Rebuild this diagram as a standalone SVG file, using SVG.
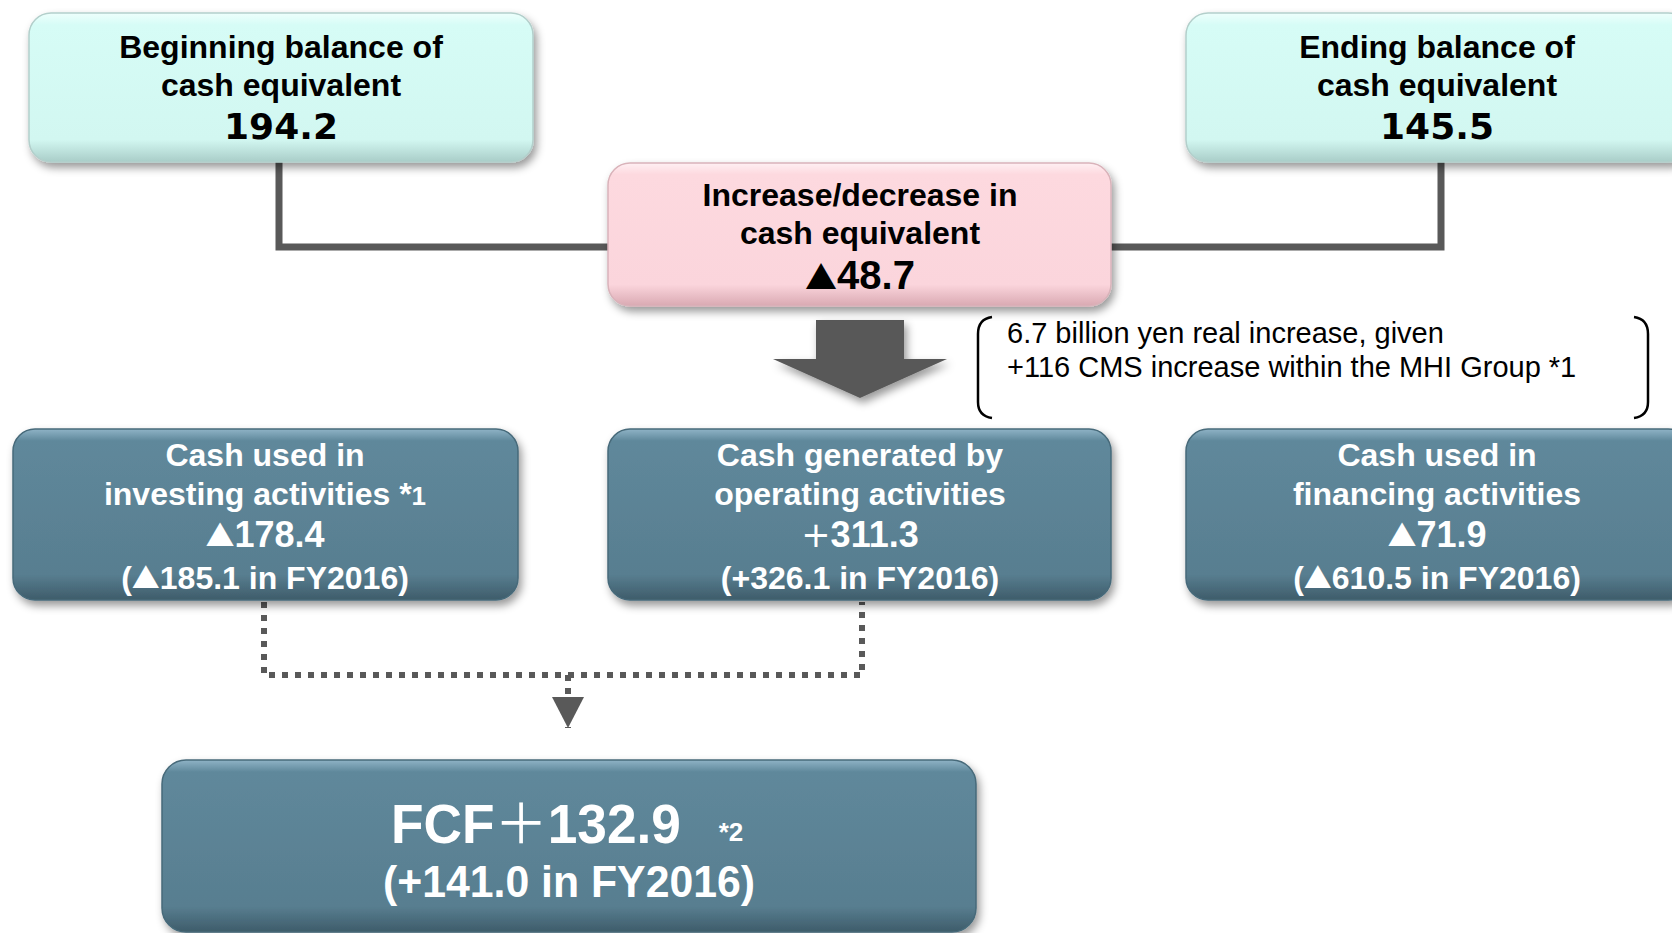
<svg xmlns="http://www.w3.org/2000/svg" width="1672" height="933" viewBox="0 0 1672 933">
<defs>
  <linearGradient id="gCyan" x1="0" y1="0" x2="0" y2="1">
    <stop offset="0" stop-color="#eefffc"/>
    <stop offset="0.08" stop-color="#d6fcf6"/>
    <stop offset="0.85" stop-color="#d2f7f1"/>
    <stop offset="1" stop-color="#a9cdc8"/>
  </linearGradient>
  <linearGradient id="gPink" x1="0" y1="0" x2="0" y2="1">
    <stop offset="0" stop-color="#fff0f3"/>
    <stop offset="0.08" stop-color="#fdd9df"/>
    <stop offset="0.85" stop-color="#fbd5dc"/>
    <stop offset="1" stop-color="#d9a9b2"/>
  </linearGradient>
  <linearGradient id="gBlue" x1="0" y1="0" x2="0" y2="1">
    <stop offset="0" stop-color="#8fb3c6"/>
    <stop offset="0.07" stop-color="#5f889b"/>
    <stop offset="0.85" stop-color="#587e90"/>
    <stop offset="1" stop-color="#3e5c6a"/>
  </linearGradient>
  <filter id="shadow" x="-5%" y="-10%" width="112%" height="130%">
    <feDropShadow dx="3" dy="5" stdDeviation="4" flood-color="#000" flood-opacity="0.4"/>
  </filter>
  <marker id="tri" viewBox="0 0 31 32" refX="31" refY="16" markerWidth="31" markerHeight="32" markerUnits="userSpaceOnUse" orient="auto">
    <path d="M0 0 L31 16 L0 32 Z" fill="#595959"/>
  </marker>
</defs>
<style>
  .cyan { fill: url(#gCyan); stroke: #b3cfcb; stroke-width: 1.5; filter: url(#shadow); }
  .pink { fill: url(#gPink); stroke: #d9b3ba; stroke-width: 1.5; filter: url(#shadow); }
  .blue { fill: url(#gBlue); stroke: #476a7a; stroke-width: 1.5; filter: url(#shadow); }
  .t { font-family: "Liberation Sans", Arial, "DejaVu Sans", sans-serif; font-weight: bold; text-anchor: middle; }
  .dk { fill: #000; }
  .wh { fill: #fff; }
  .tri { font-family: "Noto Sans CJK JP", sans-serif; font-weight: normal; }
  .plus { font-family: "DejaVu Sans", sans-serif; font-weight: normal; }
  .num { font-family: "DejaVu Sans", Verdana, sans-serif; font-weight: bold; text-anchor: middle; fill: #000; }
  .note { font-family: "Liberation Sans", Arial, sans-serif; font-size: 29px; fill: #000; }
  .solid { fill: none; stroke: #595959; stroke-width: 7; }
  .dot { fill: none; stroke: #595959; stroke-width: 6; stroke-dasharray: 6 7; }
</style>

<g id="connectors">
  <path class="solid" d="M279 162 V247 H610"/>
  <path class="solid" d="M1110 247 H1441 V162"/>
  <path class="dot" d="M264 602 V675 H862 V602"/>
  <path class="dot" d="M568 675 V728" marker-end="url(#tri)"/>
  <path d="M816 320 H904 V359 H947 L860 398 L773 359 H816 Z" fill="#595959" filter="url(#shadow)"/>
  <path d="M992 317 Q978 319 978 334 V402 Q978 416 992 418" fill="none" stroke="#000" stroke-width="2.5"/>
  <path d="M1634 317 Q1648 319 1648 334 V402 Q1648 416 1634 418" fill="none" stroke="#000" stroke-width="2.5"/>
</g>

<g id="note">
  <text class="note" x="1007" y="343">6.7 billion yen real increase, given</text>
  <text class="note" x="1007" y="377">+116 CMS increase within the MHI Group *1</text>
</g>

<g id="beginning">
  <rect class="cyan" x="29" y="13" width="504" height="149" rx="22"/>
  <text class="t dk" x="281" y="58" font-size="32">Beginning balance of</text>
  <text class="t dk" x="281" y="96" font-size="32">cash equivalent</text>
  <text class="num" x="281" y="139" font-size="36">194.2</text>
</g>

<g id="ending">
  <rect class="cyan" x="1186" y="13" width="504" height="149" rx="22"/>
  <text class="t dk" x="1437" y="58" font-size="32">Ending balance of</text>
  <text class="t dk" x="1437" y="96" font-size="32">cash equivalent</text>
  <text class="num" x="1437" y="139" font-size="36">145.5</text>
</g>

<g id="increase">
  <rect class="pink" x="608" y="163" width="503" height="143" rx="22"/>
  <text class="t dk" x="860" y="206" font-size="32">Increase/decrease in</text>
  <text class="t dk" x="860" y="244" font-size="32">cash equivalent</text>
  <text class="t dk" x="860" y="289" font-size="40"><tspan class="tri" font-size="32">▲</tspan>48.7</text>
</g>

<g id="investing">
  <rect class="blue" x="13" y="429" width="505" height="171" rx="22"/>
  <text class="t wh" x="265" y="466" font-size="32">Cash used in</text>
  <text class="t wh" x="265" y="505" font-size="32">investing activities *<tspan font-size="26">1</tspan></text>
  <text class="t wh" x="265" y="547" font-size="36"><tspan class="tri" font-size="29">▲</tspan>178.4</text>
  <text class="t wh" x="265" y="589" font-size="32">(<tspan class="tri" font-size="28">▲</tspan>185.1 in FY2016)</text>
</g>

<g id="operating">
  <rect class="blue" x="608" y="429" width="503" height="171" rx="22"/>
  <text class="t wh" x="860" y="466" font-size="32">Cash generated by</text>
  <text class="t wh" x="860" y="505" font-size="32">operating activities</text>
  <text class="t wh" x="860" y="547" font-size="36"><tspan class="plus" font-size="35">+</tspan>311.3</text>
  <text class="t wh" x="860" y="589" font-size="32">(+326.1 in FY2016)</text>
</g>

<g id="financing">
  <rect class="blue" x="1186" y="429" width="504" height="171" rx="22"/>
  <text class="t wh" x="1437" y="466" font-size="32">Cash used in</text>
  <text class="t wh" x="1437" y="505" font-size="32">financing activities</text>
  <text class="t wh" x="1437" y="547" font-size="36"><tspan class="tri" font-size="29">▲</tspan>71.9</text>
  <text class="t wh" x="1437" y="589" font-size="32">(<tspan class="tri" font-size="28">▲</tspan>610.5 in FY2016)</text>
</g>

<g id="fcf">
  <rect class="blue" x="162" y="760" width="814" height="172" rx="24"/>
  <text class="t wh" x="536" y="843" font-size="55" textLength="290" lengthAdjust="spacingAndGlyphs">FCF<tspan class="tri">＋</tspan>132.9</text>
  <text class="t wh" x="731" y="841" font-size="26">*2</text>
  <text class="t wh" x="569" y="897" font-size="44" textLength="372" lengthAdjust="spacingAndGlyphs">(+141.0 in FY2016)</text>
</g>
</svg>
